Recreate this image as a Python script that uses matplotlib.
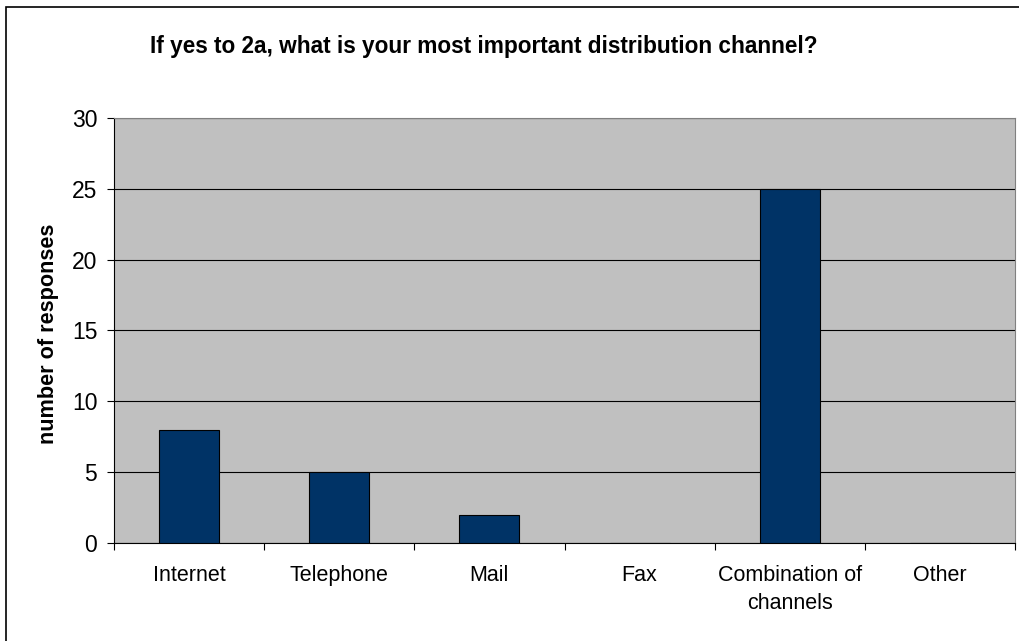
import matplotlib.pyplot as plt
import matplotlib.patches as patches

plt.rcParams['font.family'] = ['Liberation Sans', 'DejaVu Sans']

channels = ['Internet', 'Telephone', 'Mail', 'Fax', 'Combination of\nchannels', 'Other']
responses = [8, 5, 2, 0, 25, 0]

fig = plt.figure(figsize=(10.19, 6.41), dpi=100)
fig.patch.set_facecolor('white')

# outer chart frame (runs off the right and bottom edges)
fig.add_artist(patches.Rectangle((6 / 1019, -0.05), 1.1, 1 - 7 / 641 + 0.05,
                                 transform=fig.transFigure, fill=False,
                                 edgecolor='black', linewidth=1.2))

ax = fig.add_axes([114 / 1019, 1 - 543 / 641, 901 / 1019, 425 / 641])
ax.set_facecolor('#c0c0c0')

x = range(len(channels))
ax.bar(x, responses, width=0.4, color='#003366', edgecolor='black',
       linewidth=0.8, zorder=3)

ax.set_xlim(-0.5, len(channels) - 0.5)
ax.set_ylim(0, 30)
ax.set_yticks(range(0, 31, 5))
ax.yaxis.grid(True, color='black', linewidth=0.8)
ax.set_axisbelow(True)

# category boundaries get the tick marks, names sit between them
ax.set_xticks([i - 0.5 for i in range(len(channels) + 1)], minor=False)
ax.set_xticklabels([])
ax.set_xticks(list(x), minor=True)
ax.set_xticklabels(channels, minor=True, fontsize=15.5, linespacing=1.45)
ax.tick_params(axis='x', which='major', length=5, direction='out', width=0.8)
ax.tick_params(axis='x', which='minor', length=0, pad=16)
ax.tick_params(axis='y', length=5, width=0.8, labelsize=16.5, pad=7)

for side in ['top', 'right']:
    ax.spines[side].set_color('#808080')
for side in ['left', 'bottom']:
    ax.spines[side].set_color('black')

ax.set_ylabel('number of responses', fontsize=15.6, fontweight='bold')
ax.yaxis.set_label_coords(-55 / 901, (543 - 334) / 425)

fig.text(484 / 1019, 1 - 47 / 641, 'If yes to 2a, what is your most important distribution channel?',
         ha='center', va='center', fontsize=16.3, fontweight='bold')

fig.savefig('out.png', dpi=100)
